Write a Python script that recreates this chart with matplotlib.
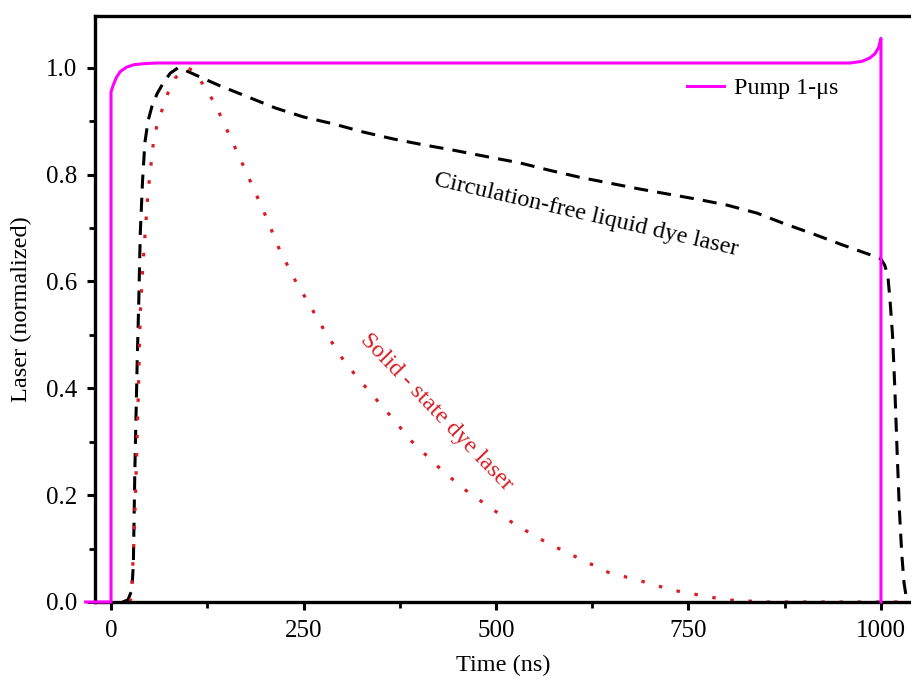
import matplotlib
matplotlib.use("Agg")
import matplotlib.pyplot as plt
from matplotlib.ticker import MultipleLocator, FormatStrFormatter

# Pump pulse (1 us)
pump_t = [-33, 0, 0, 3, 7, 12, 20, 30, 45, 60, 500, 960, 975, 985, 992, 997, 1000, 1000]
pump_y = [0, 0, 0.955, 0.968, 0.982, 0.993, 1.001, 1.006, 1.008, 1.009, 1.009, 1.009,
          1.012, 1.018, 1.026, 1.038, 1.055, 0]

# Circulation-free liquid dye laser
liq_t = [15, 22, 27, 29, 31, 34, 36, 38, 41, 44, 48, 53, 60, 68, 77, 87, 100, 120, 142,
         177, 213, 250, 289, 327, 366, 405, 444, 487, 531, 570, 609, 648, 687, 726, 765,
         800, 839, 873, 912, 949, 986, 1000, 1005, 1009, 1012, 1015, 1018, 1021, 1024,
         1027, 1030, 1033, 1036]
liq_y = [0, 0.004, 0.022, 0.07, 0.25, 0.45, 0.56, 0.69, 0.79, 0.86, 0.90, 0.927, 0.952,
         0.972, 0.99, 1.0, 0.993, 0.98, 0.966, 0.946, 0.925, 0.908, 0.895, 0.88, 0.867,
         0.856, 0.846, 0.834, 0.822, 0.808, 0.795, 0.784, 0.773, 0.763, 0.753, 0.743,
         0.728, 0.709, 0.689, 0.669, 0.65, 0.642, 0.63, 0.61, 0.56, 0.50, 0.40, 0.28,
         0.17, 0.09, 0.035, 0.008, 0]

# Solid-state dye laser
sol_t = [25, 27, 30, 33, 36, 38, 41, 44, 48, 55, 60, 66, 74, 83, 92, 100, 108, 118, 132,
         143, 153, 163, 173, 183, 202, 219, 241, 254, 278, 304, 332, 362, 391, 425, 457,
         495, 525, 566, 606, 645, 689, 730, 775, 800, 850, 900, 950, 1000, 1040]
sol_y = [0, 0.03, 0.12, 0.26, 0.42, 0.54, 0.62, 0.684, 0.766, 0.86, 0.895, 0.92, 0.953,
         0.98, 0.995, 1.0, 0.993, 0.972, 0.94, 0.908, 0.876, 0.845, 0.813, 0.781, 0.719,
         0.659, 0.597, 0.566, 0.506, 0.448, 0.40, 0.35, 0.30, 0.253, 0.213, 0.174, 0.145,
         0.111, 0.083, 0.056, 0.039, 0.022, 0.01, 0.004, 0, 0, 0, 0, 0]

plt.rcParams["font.family"] = ["Liberation Serif", "DejaVu Serif"]

fig = plt.figure(figsize=(9.12, 6.84), dpi=100)
ax = fig.add_axes([95 / 912, 1 - 602 / 684, 1 - 95 / 912, (602 - 16) / 684])

red = "#d81e24"
ax.plot(liq_t, liq_y, color="black", lw=2.2, linestyle=(0, (4.6, 3.0)), zorder=2)
ax.plot(sol_t, sol_y, color=red, lw=2.3, linestyle=(0, (1.1, 4.6)), zorder=2.2)
ax.plot(pump_t, pump_y, color="#ff00ff", lw=2.2, label="Pump 1-\u03bcs", zorder=3,
        clip_on=False)

ax.set_xlim(-20.8, 1040.3)
ax.set_ylim(0, 1.097)

# Format axes
ax.xaxis.set_major_locator(MultipleLocator(250))
ax.xaxis.set_minor_locator(MultipleLocator(125))
ax.yaxis.set_major_locator(MultipleLocator(0.2))
ax.yaxis.set_minor_locator(MultipleLocator(0.1))
ax.yaxis.set_major_formatter(FormatStrFormatter("%.1f"))
ax.tick_params(axis="both", which="major", direction="out", length=6, width=2.2,
               labelsize=18, pad=7)
ax.tick_params(axis="both", which="minor", direction="out", length=4, width=2.0)
for side in ["left", "bottom", "top"]:
    ax.spines[side].set_linewidth(2.4)
ax.spines["right"].set_visible(False)

ax.set_xlabel("Time (ns)", fontsize=17.5, labelpad=9)
ax.set_ylabel("Laser (normalized)", fontsize=17.5, labelpad=10)

ax.text(617, 0.725, "Circulation-free liquid dye laser", fontsize=17.5, rotation=-13,
        ha="center", va="center", rotation_mode="anchor")
ax.text(423, 0.356, "Solid - state dye laser", fontsize=17.5, rotation=-46, color=red,
        ha="center", va="center", rotation_mode="anchor")

ax.legend(loc="center left", bbox_to_anchor=(0.713, 0.877), frameon=False, fontsize=17.3,
          handlelength=1.55, handletextpad=0.4, borderaxespad=0)

fig.savefig("out.png", dpi=100)
